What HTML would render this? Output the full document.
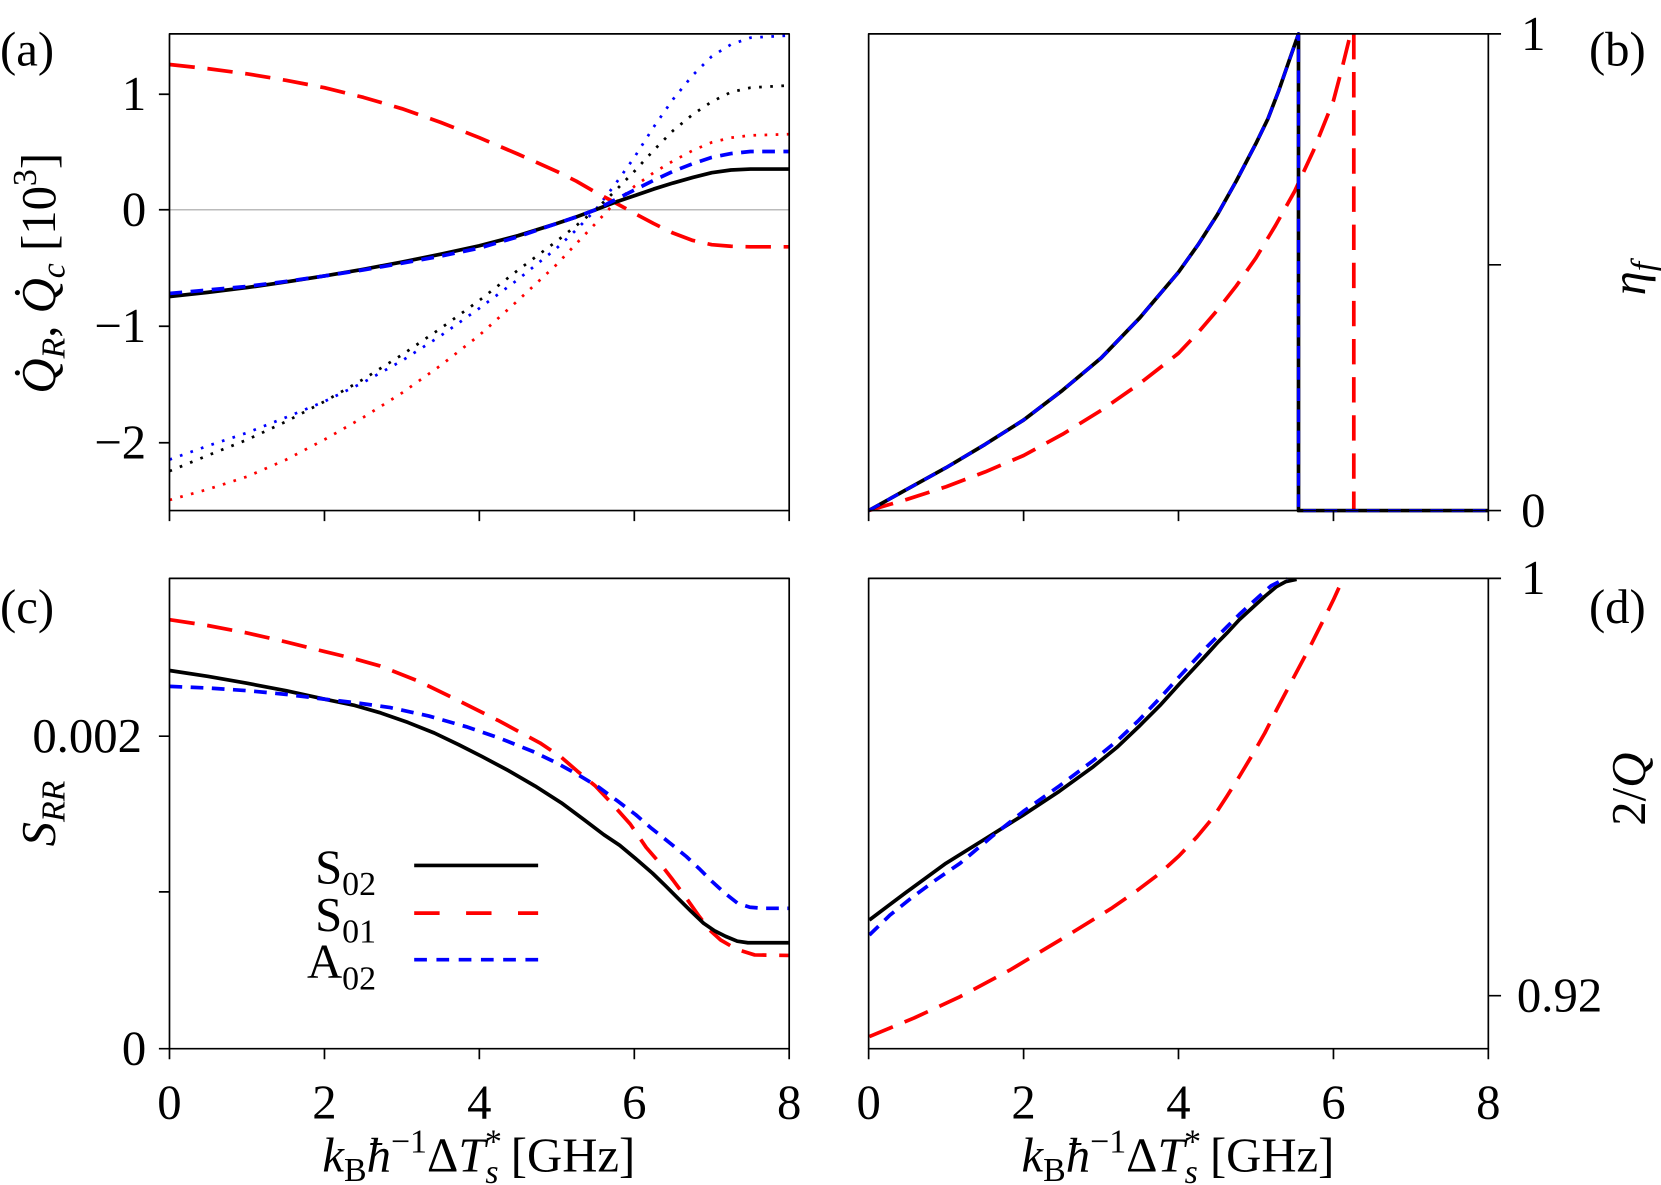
<!DOCTYPE html>
<html><head><meta charset="utf-8"><style>
html,body{margin:0;padding:0;background:#fff;}
svg{display:block;}
</style></head><body>
<svg width="1661" height="1185" viewBox="0 0 1568 1118.7" preserveAspectRatio="none" xmlns="http://www.w3.org/2000/svg">
<g fill="none" stroke-linejoin="round">
<!-- Panel a -->
<line x1="160" y1="198" x2="745" y2="198" stroke="#bbb" stroke-width="1.5"/>
<polyline stroke="#00f" stroke-width="2.6" stroke-dasharray="2.5 8" points="160,433.9 196,421 233.1,408.6 270,394 306.3,379 343,361 379.4,340.6 416,317 452.5,291 489,263.8 525.6,234.2 544,217 562.2,198 580,175 598.8,148.6 617,120 635.3,93.8 654,71 671.9,53.2 690,42 708.4,35.6 745,33.5"/>
<polyline stroke="#000" stroke-width="2.6" stroke-dasharray="2.5 8" points="160,444.8 196,430 233.1,415.2 270,398 306.3,379 343,358 379.4,335 416,310 452.5,283.6 489,255 525.6,227.6 544,213 562.2,198 580,181 598.8,161.8 617,142 635.3,123.4 654,108 671.9,96 690,87 708.4,82.8 745,80.6"/>
<polyline stroke="#f00" stroke-width="2.6" stroke-dasharray="2.5 8" points="160,472 196,462 233.1,450 270,434 306.3,415 343,394 379.4,371 416,345 452.5,316.5 489,283.6 525.6,249.6 544,230 562.2,211 580,192 598.8,176 617,163 635.3,152 654,142 671.9,134.4 690,130 708.4,127.8 745,126.7"/>
<polyline stroke="#f00" stroke-width="3.5" stroke-dasharray="24 12" points="160,60.9 196,64.8 233.1,69.7 270,75.8 306.3,82.8 343,91.9 379.4,102.6 416,115.5 452.5,130 489,145.5 525.6,161.8 544,171 562.2,181.5 580,191 598.8,201.3 617,211 635.3,220 654,227 671.9,231 690,232.5 708.4,233 745,233"/>
<polyline stroke="#000" stroke-width="3.5" points="160,280 196,276 233.1,271.5 270,266.2 306.3,260.5 343,254.2 379.4,247.4 416,240 452.5,232 489,222.5 525.6,211 544,204.8 562.2,198 580,191.2 598.8,184.8 617,178.5 635.3,172.8 654,167.5 671.9,163 690,160.5 708.4,159.6 745,159.6"/>
<polyline stroke="#00f" stroke-width="3.5" stroke-dasharray="12 8" points="160,277 196,273.8 233.1,270.4 270,265.7 306.3,260.5 343,254.8 379.4,248.5 416,241.8 452.5,234.2 489,223.5 525.6,211 544,204.8 562.2,198 580,189 598.8,179.4 617,170.3 635.3,161.8 654,154.5 671.9,148.6 690,145 708.4,143 745,143"/>
<!-- Panel b -->
<polyline stroke="#f00" stroke-width="3.5" stroke-dasharray="24 12" points="820,482 856,471.5 893.1,459.5 930,445.5 966.3,430 1003,410 1039.4,387.5 1076,362 1112.5,333.5 1131,314 1149,293 1167,270 1185.6,243.5 1204,213 1222.2,180.5 1240,142 1258.8,95 1267,64 1274.9,32"/>
<line x1="1278" y1="32" x2="1278" y2="482" stroke="#f00" stroke-width="3.5" stroke-dasharray="24 12"/>
<polyline id="bk" stroke="#000" stroke-width="3.5" points="820,482 856,462 893.1,441.5 930,419.5 966.3,396.5 1003,368.5 1039.4,338 1076,300 1112.5,257 1131,231 1149,203 1167,171 1185.6,135.5 1197,112 1207,86 1216,60 1225.8,32 1225.8,482 1405,482"/>
<polyline stroke="#00f" stroke-width="3" stroke-dasharray="12 8" points="820,482 856,462 893.1,441.5 930,419.5 966.3,396.5 1003,368.5 1039.4,338 1076,300 1112.5,257 1131,231 1149,203 1167,171 1185.6,135.5 1197,112 1207,86 1216,60 1225.8,32 1225.8,482 1405,482"/>
<!-- Panel c -->
<polyline stroke="#f00" stroke-width="3.5" stroke-dasharray="24 12" points="160,585 196,590.5 233,597.5 270,606 306,615 335,622 358.7,628.7 395,643 430,660 470,680 509.8,701.4 530,715 545,728 562,742 577.4,758.3 595,778 610,800 623,815 635.2,830.7 648,848 660,865 670,878 680.3,887.4 695,896 712.4,901.5 745,902"/>
<polyline stroke="#000" stroke-width="3.5" points="160,633 196,638.5 233,645 270,652 306,660 335,666 358.7,672.8 385,682 410,692 433,703 455.2,714.3 480,727.5 505,742 530,758 551.7,774.1 570,788 585,798 600,810.5 616,824.4 628,836 640,848 652,860 664.2,871.6 675,879 685,884 696,888.5 706,890 745,890"/>
<polyline stroke="#00f" stroke-width="3.5" stroke-dasharray="12 8" points="160,648 196,649.5 233,652 270,655.5 306,660 340,664 368.4,668 405,676 440,686 472,697 503.4,709.6 525,720 545,731 565,743 583.8,756.8 600,769 615,782 632,795.5 648,808.7 660,820 672,832 684,843 696.3,852.7 708,856.5 720,857.5 745,857.5"/>
<!-- legend -->
<line x1="391" y1="817" x2="508" y2="817" stroke="#000" stroke-width="3.5"/>
<line x1="391" y1="862" x2="508" y2="862" stroke="#f00" stroke-width="3.5" stroke-dasharray="24 25"/>
<line x1="391" y1="906" x2="508" y2="906" stroke="#00f" stroke-width="3.5" stroke-dasharray="12 9"/>
<!-- Panel d -->
<polyline stroke="#f00" stroke-width="3.5" stroke-dasharray="24 12" points="820.7,978.6 863,961 906.3,940.9 953,916 1000.7,887.4 1025,872.5 1050,857 1073,841 1095,824.4 1113,808 1130,790 1145,772 1158,752.1 1170,733 1182,713 1194,692 1205,670.3 1221,640 1236.7,610.5 1248,588 1258.7,566.4 1268,546"/>
<polyline stroke="#000" stroke-width="3.5" points="820.7,868.5 856,842 893,815 930,792 966,769.4 1000,747 1032,723.8 1055,705 1075,686 1095,666 1114,645 1128,630 1140,617 1150,606 1158,597.9 1170,585 1182,574 1194,563 1205,553.8 1214,549 1224,546.9"/>
<polyline stroke="#00f" stroke-width="3.5" stroke-dasharray="12 8" points="820.7,882.7 840,864 860,848 883,831 906.3,815 936,790 966,766 1000,742 1032,718 1055,699 1075,680 1095,659 1114,638 1128,623 1140,610 1150,600 1158,592 1170,580 1182,569 1192,560 1200,553 1208,549 1215,546.5"/>
<!-- frames -->
<g stroke="#000" stroke-width="1.6">
<rect x="160" y="32" width="585" height="450"/>
<rect x="820" y="32" width="585" height="450"/>
<rect x="160" y="546" width="585" height="444"/>
<rect x="820" y="546" width="585" height="444"/>
<path d="M160,482v10M306.3,482v10M452.5,482v10M598.8,482v10M745,482v10
M820,482v10M966.3,482v10M1112.5,482v10M1258.8,482v10M1405,482v10
M160,990v10M306.3,990v10M452.5,990v10M598.8,990v10M745,990v10
M820,990v10M966.3,990v10M1112.5,990v10M1258.8,990v10M1405,990v10
M150,89h10M150,198h10M150,308h10M150,418h10
M150,695h10M150,842h10M150,990h10
M1405,32h12M1405,250h12M1405,482h12
M1405,546h12M1405,940h12"/>
</g>
</g>
<g font-size="46" font-family="'Liberation Serif', 'DejaVu Serif', serif" fill="#000">
<text x="0" y="62">(a)</text>
<text x="1500" y="62">(b)</text>
<text x="0" y="588">(c)</text>
<text x="1500" y="588">(d)</text>
<g text-anchor="end">
<text x="138" y="104">1</text>
<text x="138" y="213">0</text>
<text x="138" y="323">−1</text>
<text x="138" y="433">−2</text>
<text x="134" y="710">0.002</text>
<text x="138" y="1005">0</text>
</g>
<text x="1436" y="47">1</text>
<text x="1436" y="497">0</text>
<text x="1436" y="561">1</text>
<text x="1432" y="955">0.92</text>
<g text-anchor="middle">
<text x="160" y="1056">0</text><text x="306.3" y="1056">2</text><text x="452.5" y="1056">4</text><text x="598.8" y="1056">6</text><text x="745" y="1056">8</text>
<text x="820" y="1056">0</text><text x="966.3" y="1056">2</text><text x="1112.5" y="1056">4</text><text x="1258.8" y="1056">6</text><text x="1405" y="1056">8</text>
<text x="452" y="1106"><tspan font-style="italic">k</tspan><tspan font-size="32" dy="9">B</tspan><tspan font-style="italic" dy="-9">ħ</tspan><tspan font-size="32" dy="-18">−1</tspan><tspan dy="18">Δ</tspan><tspan font-style="italic">T</tspan><tspan font-size="32" font-style="italic" dx="-2" dy="-18">*</tspan><tspan font-size="32" font-style="italic" dx="-14" dy="29">s</tspan><tspan dy="-11"> [GHz]</tspan></text>
<text x="1112" y="1106"><tspan font-style="italic">k</tspan><tspan font-size="32" dy="9">B</tspan><tspan font-style="italic" dy="-9">ħ</tspan><tspan font-size="32" dy="-18">−1</tspan><tspan dy="18">Δ</tspan><tspan font-style="italic">T</tspan><tspan font-size="32" font-style="italic" dx="-2" dy="-18">*</tspan><tspan font-size="32" font-style="italic" dx="-14" dy="29">s</tspan><tspan dy="-11"> [GHz]</tspan></text>
<text transform="translate(52,258) rotate(-90)"><tspan font-style="italic">Q̇</tspan><tspan font-size="32" font-style="italic" dy="9">R</tspan><tspan dy="-9">, </tspan><tspan font-style="italic">Q̇</tspan><tspan font-size="32" font-style="italic" dy="9">c</tspan><tspan dy="-9"> [10</tspan><tspan font-size="32" dy="-18">3</tspan><tspan dy="18">]</tspan></text>
<text transform="translate(52,768) rotate(-90)"><tspan font-style="italic">S</tspan><tspan font-size="32" font-style="italic" dy="9">RR</tspan></text>
<text transform="translate(1553,263) rotate(-90)"><tspan font-style="italic">η</tspan><tspan font-size="32" font-style="italic" dy="9">f</tspan></text>
<text transform="translate(1553,745) rotate(-90)">2/<tspan font-style="italic">Q</tspan></text>
</g>
<g text-anchor="end">
<text x="355" y="834">S<tspan font-size="32" dy="11">02</tspan></text>
<text x="355" y="879">S<tspan font-size="32" dy="11">01</tspan></text>
<text x="355" y="923">A<tspan font-size="32" dy="11">02</tspan></text>
</g>
</g>
</svg>
</body></html>
